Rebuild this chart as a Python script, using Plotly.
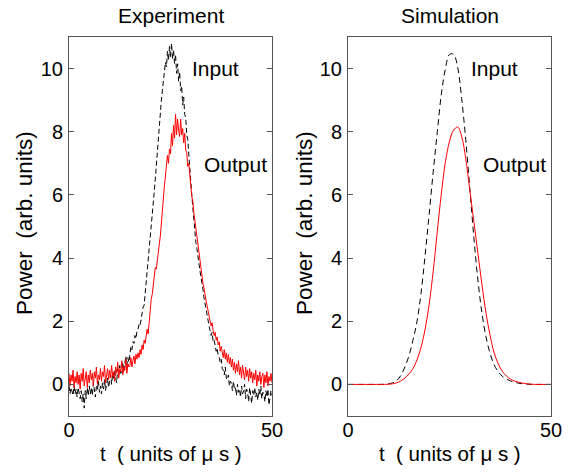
import numpy as np
import plotly.graph_objects as go

# ---------------- data ----------------
# Experiment: sampled every 0.25 us from 0 to 50
exp_input = [
    -0.05, -0.30, -0.10, -0.25, -0.35, -0.05, -0.30, -0.15, -0.40, -0.10, -0.25, -0.45, -0.20, -0.55, -0.30, -0.75, -0.20, -0.45, -0.10, -0.35,
    -0.05, -0.30, -0.10, -0.35, 0.05, -0.20, -0.40, -0.05, -0.15, 0.10, -0.25, -0.05, -0.30, 0.05, -0.15, 0.15, -0.20, 0.00, 0.20, -0.10,
    0.10, 0.30, 0.00, 0.35, 0.15, 0.45, 0.20, 0.05, 0.50, 0.30, 0.60, 0.35, 0.45, 0.70, 0.40, 0.65, 0.90, 0.60, 0.85, 0.70,
    1.00, 1.20, 1.10, 1.35, 1.30, 1.55, 1.45, 1.70, 1.75, 1.90, 1.85, 2.10, 2.30, 2.45, 2.50, 2.85, 3.25, 3.40, 3.75, 4.10,
    4.45, 4.90, 5.20, 5.75, 6.10, 6.50, 6.95, 7.30, 7.75, 8.20, 8.50, 9.00, 9.30, 9.65, 9.85, 10.20, 10.05, 10.55, 10.25, 10.70,
    10.35, 10.80, 10.30, 10.60, 10.15, 10.45, 9.85, 10.15, 9.60, 9.90, 9.30, 9.45, 8.85, 9.10, 8.55, 8.45, 7.90, 7.75, 7.30, 6.95,
    6.50, 6.00, 5.60, 5.20, 4.85, 4.50, 4.30, 4.00, 3.85, 3.60, 3.40, 3.25, 3.00, 2.75, 2.55, 2.30, 2.15, 1.95, 1.85, 1.70,
    1.55, 1.65, 1.35, 1.40, 1.20, 1.05, 1.15, 0.90, 0.85, 0.70, 0.80, 0.50, 0.45, 0.30, 0.55, 0.20, 0.15, 0.30, -0.05, 0.10,
    0.05, -0.20, 0.10, -0.15, -0.10, -0.35, 0.00, -0.25, -0.15, -0.40, -0.05, -0.30, -0.20, 0.00, -0.45, -0.15, -0.25, -0.55, -0.10, -0.30,
    -0.60, -0.20, -0.35, -0.10, -0.40, -0.25, -0.50, -0.15, -0.35, -0.05, -0.45, -0.25, -0.30, -0.55, -0.20, -0.40, -0.15, -0.65, -0.30, -0.20,
    -0.35,
]
exp_output = [
    0.35, -0.05, 0.30, 0.10, 0.45, -0.10, 0.25, 0.05, 0.40, 0.00, 0.30, -0.15, 0.35, 0.10, 0.50, -0.05, 0.20, 0.40, -0.10, 0.30,
    0.05, 0.45, 0.15, 0.35, -0.05, 0.40, 0.20, 0.55, 0.00, 0.30, 0.15, 0.50, 0.10, 0.40, 0.25, 0.60, 0.05, 0.35, 0.50, 0.15,
    0.45, 0.20, 0.60, 0.25, 0.40, 0.10, 0.55, 0.35, 0.70, 0.20, 0.50, 0.40, 0.75, 0.30, 0.55, 0.45, 0.80, 0.35, 0.65, 0.55,
    0.60, 0.85, 0.55, 0.75, 0.90, 0.65, 0.95, 0.80, 1.00, 0.85, 1.10, 0.95, 1.25, 1.10, 1.40, 1.30, 1.55, 1.75, 1.60, 2.00,
    2.40, 2.70, 2.85, 3.20, 3.50, 3.70, 3.65, 4.00, 4.20, 4.45, 4.70, 5.10, 5.70, 5.90, 6.30, 6.60, 6.85, 7.25, 7.00, 7.45,
    7.30, 7.95, 7.55, 8.20, 7.80, 8.55, 7.90, 8.40, 8.05, 7.85, 8.40, 7.90, 8.10, 7.65, 7.95, 7.40, 7.35, 6.90, 7.00, 6.50,
    6.30, 5.95, 5.80, 5.45, 5.20, 4.95, 4.60, 4.35, 4.10, 3.90, 3.60, 3.45, 3.20, 3.05, 2.80, 2.65, 2.50, 2.30, 2.15, 2.00,
    1.85, 1.95, 1.70, 1.55, 1.65, 1.40, 1.50, 1.25, 1.35, 1.05, 1.20, 1.00, 0.85, 1.10, 0.80, 1.00, 0.70, 0.95, 0.65, 0.85,
    0.55, 0.80, 0.45, 0.70, 0.35, 0.65, 0.40, 0.75, 0.30, 0.55, 0.20, 0.60, 0.35, 0.15, 0.55, 0.25, 0.45, 0.10, 0.50, 0.20,
    0.40, 0.05, 0.35, 0.15, 0.45, -0.05, 0.30, 0.10, 0.40, 0.00, 0.25, 0.35, -0.10, 0.30, 0.05, 0.40, -0.05, 0.25, 0.10, 0.35,
    0.05,
]
exp_t = np.linspace(0, 50, len(exp_input))

# Simulation: sampled every 1 us from 0 to 50
sim_t = list(range(0, 51))
sim_input = [
    0, 0, 0, 0, 0, 0, 0, 0, 0, 0.005,
    0.02, 0.05, 0.12, 0.28, 0.55, 0.9, 1.4, 2.0, 2.9, 4.1,
    5.4, 6.75, 8.0, 9.2, 10.0, 10.45, 10.45, 10.05, 9.05, 7.75,
    6.2, 4.65, 3.3, 2.25, 1.5, 0.98, 0.62, 0.4, 0.26, 0.17,
    0.11, 0.07, 0.04, 0.02, 0.01, 0, 0, 0, 0, 0, 0,
]
sim_output = [
    0, 0, 0, 0, 0, 0, 0, 0, 0, 0,
    0.005, 0.02, 0.05, 0.11, 0.2, 0.33, 0.5, 0.78, 1.18, 1.75,
    2.55, 3.6, 4.85, 6.05, 7.05, 7.7, 8.05, 8.15, 7.85, 7.15,
    6.15, 5.15, 4.15, 3.15, 2.25, 1.55, 1.0, 0.65, 0.42, 0.27,
    0.17, 0.11, 0.07, 0.04, 0.02, 0.01, 0, 0, 0, 0, 0,
]

x_ticks = [0, 50]
y_ticks = [0, 2, 4, 6, 8, 10]
titles = ["Experiment", "Simulation"]
x_label = "t  ( units of \u03bc s )"
y_label = "Power  (arb. units)"

# ---------------- figure ----------------
W, H = 578, 472
FONT = "Liberation Sans, Arial, Helvetica, sans-serif"
FS = 20

fig = go.Figure()
fig.add_trace(go.Scatter(x=exp_t, y=exp_input, mode="lines", xaxis="x", yaxis="y",
                         line=dict(color="black", width=1, dash="5px,3px"), showlegend=False))
fig.add_trace(go.Scatter(x=exp_t, y=exp_output, mode="lines", xaxis="x", yaxis="y",
                         line=dict(color="#ff0000", width=1), showlegend=False))
fig.add_trace(go.Scatter(x=sim_t, y=sim_input, mode="lines", xaxis="x2", yaxis="y2",
                         line=dict(color="black", width=1, dash="6px,4px", shape="spline"), showlegend=False))
fig.add_trace(go.Scatter(x=sim_t, y=sim_output, mode="lines", xaxis="x2", yaxis="y2",
                         line=dict(color="#ff0000", width=1, shape="spline"), showlegend=False))

left_dom = [69 / W, 272 / W]
right_dom = [348 / W, 551 / W]
y_dom = [1 - 416 / H, 1 - 37 / H]

axis_common = dict(showline=True, linecolor="#555555", linewidth=1, mirror="allticks",
                   ticks="inside", ticklen=5, tickcolor="#555555", showgrid=False, zeroline=False,
                   automargin=False,
                   tickfont=dict(family=FONT, size=FS, color="black"))

fig.update_layout(
    width=W, height=H, margin=dict(l=0, r=0, t=0, b=0, autoexpand=False),
    paper_bgcolor="white", plot_bgcolor="white",
    font=dict(family=FONT, size=FS, color="black"),
    xaxis=dict(domain=left_dom, range=[0, 50], tickvals=x_ticks, anchor="y", ticklabelstandoff=-4, **axis_common),
    yaxis=dict(domain=y_dom, range=[-1, 11], tickvals=y_ticks, anchor="x", ticklabelstandoff=1, **axis_common),
    xaxis2=dict(domain=right_dom, range=[0, 50], tickvals=x_ticks, anchor="y2", ticklabelstandoff=-4, **axis_common),
    yaxis2=dict(domain=y_dom, range=[-1, 11], tickvals=y_ticks, anchor="x2", ticklabelstandoff=1, **axis_common),
)

ann = []
for i, (dom, title) in enumerate(zip([left_dom, right_dom], titles)):
    cx = (dom[0] + dom[1]) / 2
    ann.append(dict(text=title, x=cx, y=1 - 15 / H, xref="paper", yref="paper",
                    showarrow=False, xanchor="center", yanchor="middle", font=dict(size=21)))
    ann.append(dict(text=x_label, x=cx, y=1 - 453 / H, xref="paper", yref="paper",
                    showarrow=False, xanchor="center", yanchor="middle", font=dict(size=20.5)))
    yx = (25 if i == 0 else 305) / W
    ann.append(dict(text=y_label, x=yx, y=1 - 223 / H, xref="paper", yref="paper",
                    showarrow=False, textangle=-90, xanchor="center", yanchor="middle", font=dict(size=22.5)))

ann.append(dict(text="Input", x=36, y=10, xref="x", yref="y", showarrow=False, font=dict(size=21)))
ann.append(dict(text="Output", x=41, y=6.95, xref="x", yref="y", showarrow=False, font=dict(size=21)))
ann.append(dict(text="Input", x=36, y=10, xref="x2", yref="y2", showarrow=False, font=dict(size=21)))
ann.append(dict(text="Output", x=41, y=6.95, xref="x2", yref="y2", showarrow=False, font=dict(size=21)))
fig.update_layout(annotations=ann)

fig.write_html("out.html", config={"displayModeBar": False},
               post_script="document.body.style.margin='0';document.body.style.padding='0';")
